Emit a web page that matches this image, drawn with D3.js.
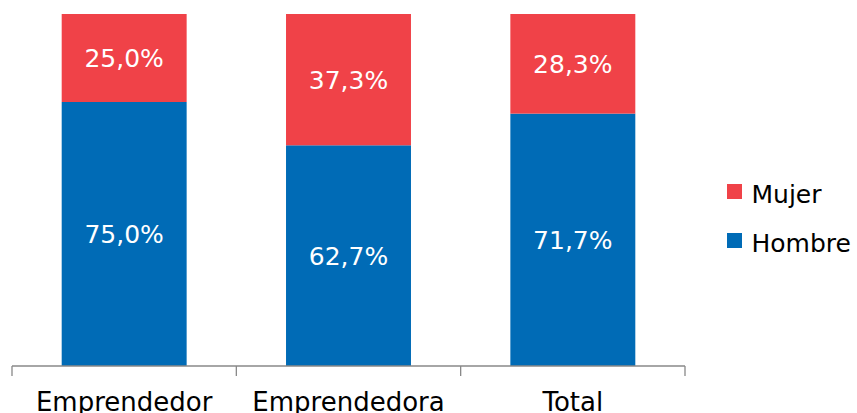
<!DOCTYPE html>
<html>
<head>
<meta charset="utf-8">
<script src="https://cdn.jsdelivr.net/npm/d3@7"></script>
<style>
  body { margin: 0; background: #fff; }
  svg { display: block; font-family: Verdana, "DejaVu Sans", sans-serif; }
</style>
</head>
<body>
<svg id="chart" width="857" height="413"></svg>
<script>
const categories = ["Emprendedor", "Emprendedora", "Total"];
const hombre = [75.0, 62.7, 71.7];
const mujer = [25.0, 37.3, 28.3];
const seriesNames = ["Hombre", "Mujer"];
const colors = { Hombre: "#006BB6", Mujer: "#F04248" };

const svg = d3.select("#chart");

const x = d3.scaleBand()
  .domain(categories)
  .range([12, 685])
  .paddingInner(0.443)
  .paddingOuter(0.2215);

const y = d3.scaleLinear().domain([0, 100]).range([366, 14]);

const rows = categories.map((c, i) => ({ cat: c, Hombre: hombre[i], Mujer: mujer[i] }));
const stack = d3.stack().keys(seriesNames)(rows);

const fmt = (v) => v.toFixed(1).replace(".", ",") + "%";

const layer = svg.append("g")
  .selectAll("g")
  .data(stack)
  .join("g")
  .attr("fill", (d) => colors[d.key]);

layer.selectAll("rect")
  .data((d) => d)
  .join("rect")
  .attr("x", (d) => x(d.data.cat))
  .attr("width", x.bandwidth())
  .attr("y", (d) => y(d[1]))
  .attr("height", (d) => y(d[0]) - y(d[1]));

layer.selectAll("text")
  .data((d) => d.map((p) => ({ p, key: d.key })))
  .join("text")
  .attr("x", (d) => x(d.p.data.cat) + x.bandwidth() / 2)
  .attr("y", (d) => (y(d.p[0]) + y(d.p[1])) / 2)
  .attr("dy", "0.36em")
  .attr("text-anchor", "middle")
  .attr("fill", "#fff")
  .attr("font-size", 25)
  .text((d) => fmt(d.p.data[d.key]));

// axis with ticks between categories
const [r0, r1] = x.range();
const step = x.step();
const axis = svg.append("g").attr("stroke", "#888").attr("stroke-width", 1.3);
axis.append("line")
  .attr("x1", r0).attr("x2", r1)
  .attr("y1", y(0)).attr("y2", y(0));
axis.selectAll("line.tick")
  .data(d3.range(categories.length + 1))
  .join("line")
  .attr("class", "tick")
  .attr("x1", (i) => r0 + i * step)
  .attr("x2", (i) => r0 + i * step)
  .attr("y1", y(0))
  .attr("y2", y(0) + 10);

svg.append("g")
  .selectAll("text")
  .data(categories)
  .join("text")
  .attr("x", (d) => x(d) + x.bandwidth() / 2)
  .attr("y", 411)
  .attr("text-anchor", "middle")
  .attr("font-size", 26)
  .attr("fill", "#000")
  .text((d) => d);

// legend
const legendItems = ["Mujer", "Hombre"];
const legend = svg.append("g")
  .selectAll("g")
  .data(legendItems)
  .join("g")
  .attr("transform", (d, i) => `translate(727,${184 + i * 49})`);

legend.append("rect")
  .attr("width", 15)
  .attr("height", 15)
  .attr("fill", (d) => colors[d]);

legend.append("text")
  .attr("x", 24.5)
  .attr("y", 19)
  .attr("font-size", 25)
  .attr("fill", "#000")
  .text((d) => d);
</script>
</body>
</html>
